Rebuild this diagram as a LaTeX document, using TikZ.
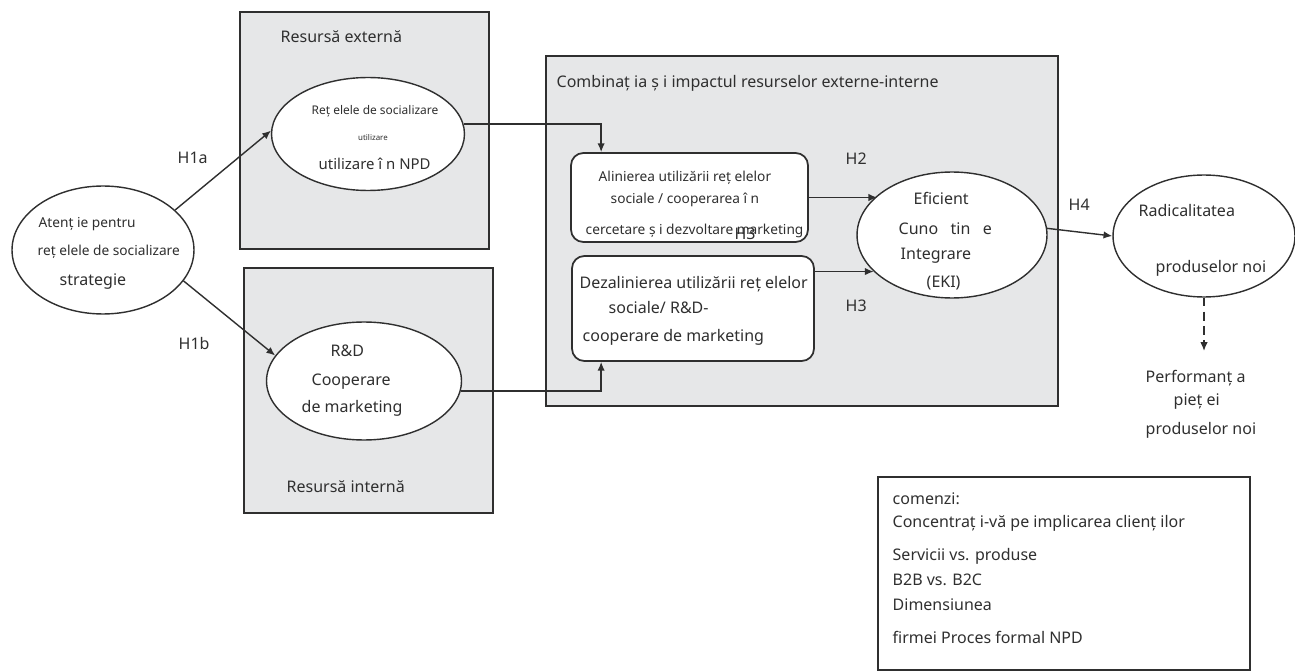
\documentclass[tikz,border=0pt]{standalone}
\usepackage{fontspec}
\setmainfont{Noto Sans}
\usetikzlibrary{shapes.geometric, arrows.meta}
\definecolor{boxgrey}{HTML}{E6E7E8}
\definecolor{ink}{HTML}{2F2F2F}
\tikzset{>={Latex[length=5pt,width=4.2pt]}}

\begin{document}
\begin{tikzpicture}[x=0.02cm, y=-0.02cm, line width=0.8pt,
  ell/.style={ellipse, draw=ink, fill=white, inner sep=0pt},
  rbox/.style={rectangle, rounded corners=7pt, draw=ink, fill=white, line width=1pt, inner sep=0pt},
  link/.style={draw=ink, ->},
  txt/.style={anchor=west, inner sep=0pt, text=ink, font=\fontsize{9.1}{11}\selectfont},
  small/.style={txt, font=\fontsize{7.8}{9}\selectfont}]
\useasboundingbox (0,0) rectangle (1295,672);

% grey resource boxes
\draw[draw=ink, fill=boxgrey] (240,12) rectangle (489,249);
\draw[draw=ink, fill=boxgrey] (244,268) rectangle (493,513);
\draw[draw=ink, fill=boxgrey] (546,56) rectangle (1058,406);
\draw[draw=ink] (878,477) rectangle (1250,670);

% ellipses and boxes
\node[ell, minimum width=3.64cm, minimum height=2.56cm] (att) at (103,250) {};
\node[ell, minimum width=3.86cm, minimum height=2.26cm] (ret) at (368,134) {};
\node[ell, minimum width=3.9cm, minimum height=2.36cm] (rd) at (364,381) {};
\node[ell, minimum width=3.8cm, minimum height=2.52cm] (eki) at (952,235) {};
\node[ell, minimum width=3.64cm, minimum height=2.44cm] (rad) at (1204,236) {};
\node[rbox, minimum width=4.74cm, minimum height=1.78cm] (alin) at (689.5,197.5) {};
\node[rbox, minimum width=4.84cm, minimum height=2.1cm] (dez) at (693,308.5) {};

% texts
\node[txt] (extlbl) at (280,37) {Resursă externă};
\node[txt] (intlbl) at (286,487) {Resursă internă};
\node[txt] (comblbl) at (556,83) {Combinaț ia ș i impactul resurselor externe-interne};

\node[small] (att1) at (38,224) {Atenț ie pentru};
\node[small] (att2) at (37,252) {reț elele de socializare};
\node[txt] (att3) at (59,282) {strategie};

\node[txt, font=\fontsize{6.8}{8}\selectfont] (ret1) at (311,111) {Reț elele de socializare};
\node[txt, anchor=center, font=\fontsize{4.5}{5}\selectfont] (ret2) at (373,138) {utilizare};
\node[txt, font=\fontsize{8.5}{10}\selectfont] (ret3) at (318,164) {utilizare î n NPD};

\node[txt] (rd1) at (330,351) {R\&D};
\node[txt] (rd2) at (311,382) {Cooperare};
\node[txt] (rd3) at (301,408) {de marketing};

\node[small] (alin1) at (598,178) {Alinierea utilizării reț elelor};
\node[small] (alin2) at (610,200) {sociale / cooperarea î n};
\node[small] (alin3) at (585,231) {cercetare ș i dezvoltare marketing};
\node[txt, anchor=center] (h3b) at (745,234) {H3};

\node[txt] (dez1) at (579,284) {Dezalinierea utilizării reț elelor};
\node[txt] (dez2) at (608,308) {sociale/ R\&D-};
\node[txt] (dez3) at (582,337) {cooperare de marketing};

\node[txt] (eki1) at (913,198) {Eficient};
\node[txt] (eki2) at (898,229) {Cuno \ \ tin \ \ e};
\node[txt] (eki3) at (900,256) {Integrare};
\node[txt] (eki4) at (926,283) {(EKI)};

\node[txt] (rad1) at (1138,211) {Radicalitatea};
\node[txt] (rad2) at (1155,268) {produselor noi};

\node[txt] (perf1) at (1145,378) {Performanț a};
\node[txt] (perf2) at (1173,402) {pieț ei};
\node[txt] (perf3) at (1145,430) {produselor noi};
\coordinate (perftop) at (1204,351);

\node[txt] (h1a) at (177,158) {H1a};
\node[txt] (h1b) at (178,344) {H1b};
\node[txt] (h2) at (845,159) {H2};
\node[txt] (h3) at (845,306) {H3};
\node[txt] (h4) at (1068,205) {H4};

\node[txt] (leg1) at (892,499) {comenzi:};
\node[txt] (leg2) at (892,523) {Concentraț i-vă pe implicarea clienț ilor};
\node[txt] (leg3) at (892,556) {Servicii vs. produse};
\node[txt] (leg4) at (892,580) {B2B vs. B2C};
\node[txt] (leg5) at (892,605) {Dimensiunea};
\node[txt] (leg6) at (892,637) {firmei Proces formal NPD};

% connectors
\draw[link] (att.29) -- (ret.178);
\draw[link] (att.-21) -- (rd.164);
\draw[link] (ret.6) -| ([xshift=0.62cm]alin.north west);
\draw[link] (rd.-6) -| ([xshift=0.6cm]dez.south west);
\draw[link] (alin.east) -- (alin.east -| eki.152);
\draw[link] (eki.205 -| dez.east) -- (eki.205);
\draw[link] (eki.4) -- (rad.west);
\draw[link, dashed, dash pattern=on 5pt off 3pt] (rad.south) -- (perftop);
\end{tikzpicture}
\end{document}
